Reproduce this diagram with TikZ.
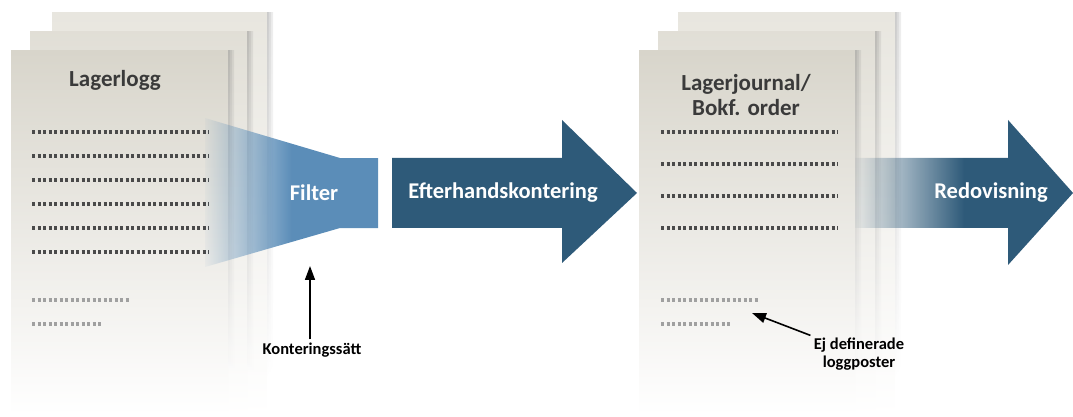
\documentclass[tikz,border=0pt]{standalone}
\usepackage{fontspec}
\setmainfont{Carlito}
\usetikzlibrary{fadings,arrows.meta}

\definecolor{PageGray}{HTML}{D8D5CB}
\definecolor{BackGray}{HTML}{E8E6DF}
\definecolor{FilterBlue}{HTML}{5B8DB8}
\definecolor{DarkBlue}{HTML}{2E5A79}
\definecolor{DotGray}{HTML}{4A4A4A}
\definecolor{FaintGray}{HTML}{A0A0A0}
\definecolor{TitleGray}{HTML}{3A3A3A}

\tikzfading[name=FadeIn, left color=transparent!96, right color=transparent!0, middle color=transparent!0]

\begin{document}
\begin{tikzpicture}[x=1pt, y=1pt]

\tikzset{
  TitleStyle/.style = { font = \bfseries\fontsize{23}{25}\selectfont,
                        text = TitleGray, align = center },
  ArrowText/.style  = { font = \bfseries\fontsize{22.5}{25}\selectfont, text = white },
  NoteStyle/.style  = { font = \bfseries\fontsize{16.5}{18}\selectfont, align = center },
  NoteArrow/.style  = { -{Triangle[length=14pt, width=10pt]}, line width = 1.6pt },
  DotLine/.style    = { DotGray, line width = 3.2pt, dash pattern = on 3pt off 2.5pt },
  FaintDot/.style   = { DotLine, FaintGray } }

  \useasboundingbox (0,0) rectangle (1073,417);

  % page stacks
  \foreach \xl/\xr/\yt/\pc in {52/267/404/BackGray, 30/247/385/BackGray!55!PageGray,
                               11/228/366/PageGray,
                               678/895/404/BackGray, 658/875/385/BackGray!55!PageGray,
                               639/855/366/PageGray}{
    \shade[top color=\pc, bottom color=white] (\xl,\yt) rectangle (\xr,2);
    \foreach \w in {2,4,6}
      \shade[top color=black!60, bottom color=white, opacity=0.12] (\xr,\yt) rectangle (\xr+\w,40);
  }

  \node[TitleStyle] (ll) at (115,337) {Lagerlogg};
  \node[TitleStyle] (lj) at (746,322) {Lagerjournal/\\Bokf. order};

  \foreach \y in {285,261,...,165}
    \draw[DotLine] (32,\y) -- (209,\y);
  \draw[FaintDot] (32,117) -- (129,117);
  \draw[FaintDot] (32,93) -- (102,93);

  \foreach \y in {285,253,...,189}
    \draw[DotLine] (661,\y) -- (838,\y);
  \draw[FaintDot] (661,117) -- (758,117);
  \draw[FaintDot] (661,93) -- (731,93);

  % filter funnel
  \fill[FilterBlue, path fading=FadeIn]
    (205,299) -- (340,259) -- (378,259) -- (378,189) -- (340,189) -- (205,150) -- cycle;
  \node[ArrowText] (fi) at (314,224) {Filter};

  % big arrows
  \fill[DarkBlue] (392,259) -- (562,259) -- (562,297) -- (637,224)
    -- (562,154) -- (562,189) -- (392,189) -- cycle;
  \node[ArrowText] (ek) at (503,224) {Efterhandskontering};

  \fill[DarkBlue, path fading=FadeIn] (855,259) -- (1008,259) -- (1008,297) -- (1073,224)
    -- (1008,152) -- (1008,189) -- (855,189) -- cycle;
  \node[ArrowText] (rd) at (991,224) {Redovisning};

  % notes
  \node[NoteStyle] (ks) at (312,67) {Konteringssätt};
  \coordinate (kt) at (310,151);
  \draw[NoteArrow] (ks.north -| kt) -- (kt);

  \node[NoteStyle] (ej) at (859,63) {Ej definerade\\loggposter};
  \coordinate (et) at (752,104);
  \draw[NoteArrow] (ej) -- (et);

\end{tikzpicture}
\end{document}
